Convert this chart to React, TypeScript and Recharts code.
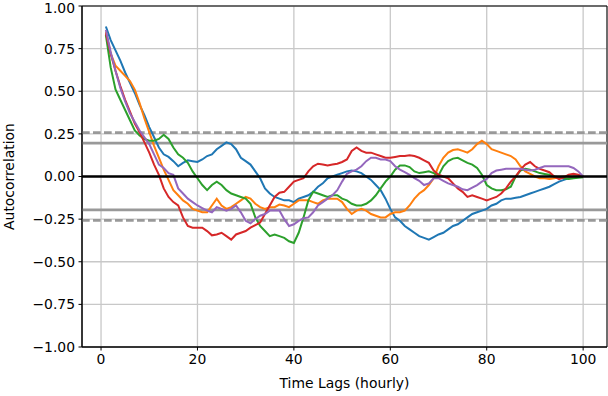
import { LineChart, Line, XAxis, YAxis, CartesianGrid, ReferenceLine, ReferenceArea, Label } from 'recharts';

// autocorrelation by lag (1..100), one array per series
const series0 = [
  0.88, 0.80, 0.74, 0.68, 0.61, 0.55, 0.49, 0.42, 0.36, 0.29,
  0.23, 0.17, 0.13, 0.115, 0.09, 0.06, 0.08, 0.095, 0.09, 0.085,
  0.10, 0.12, 0.13, 0.16, 0.18, 0.20, 0.19, 0.16, 0.11, 0.09,
  0.07, 0.03, -0.01, -0.07, -0.10, -0.12, -0.13, -0.14, -0.14, -0.15,
  -0.13, -0.12, -0.11, -0.09, -0.06, -0.04, -0.01, 0.0, 0.01, 0.02,
  0.03, 0.035, 0.03, 0.02, 0.0, -0.02, -0.05, -0.08, -0.13, -0.19,
  -0.24, -0.26, -0.29, -0.31, -0.33, -0.35, -0.36, -0.37, -0.355, -0.34,
  -0.33, -0.31, -0.29, -0.28, -0.26, -0.24, -0.22, -0.21, -0.20, -0.19,
  -0.17, -0.16, -0.14, -0.13, -0.13, -0.125, -0.12, -0.11, -0.10, -0.09,
  -0.08, -0.07, -0.06, -0.045, -0.03, -0.02, -0.01, 0.0, 0.0, 0.0,
];

const series1 = [
  0.85, 0.72, 0.65, 0.62, 0.59, 0.56, 0.51, 0.43, 0.34, 0.26,
  0.18, 0.11, 0.04, -0.02, -0.08, -0.11, -0.14, -0.16, -0.19, -0.20,
  -0.21, -0.21, -0.17, -0.13, -0.17, -0.19, -0.18, -0.16, -0.14, -0.12,
  -0.13, -0.16, -0.18, -0.19, -0.18, -0.18, -0.165, -0.17, -0.18, -0.16,
  -0.14, -0.14, -0.14, -0.15, -0.16, -0.14, -0.13, -0.13, -0.13, -0.15,
  -0.19, -0.22, -0.20, -0.19, -0.20, -0.22, -0.23, -0.24, -0.24, -0.22,
  -0.21, -0.21, -0.20, -0.17, -0.13, -0.10, -0.08, -0.05, -0.01, 0.06,
  0.11, 0.14, 0.155, 0.16, 0.15, 0.14, 0.16, 0.19, 0.21, 0.19,
  0.16, 0.15, 0.14, 0.13, 0.12, 0.10, 0.06, 0.03, 0.015, 0.0,
  -0.01, -0.01, -0.015, -0.01, -0.005, 0.0, 0.0, 0.0, 0.0, 0.0,
];

const series2 = [
  0.83, 0.64, 0.51, 0.45, 0.39, 0.33, 0.27, 0.24, 0.22, 0.21,
  0.21, 0.22, 0.245, 0.22, 0.17, 0.13, 0.11, 0.08, 0.03, -0.01,
  -0.05, -0.08, -0.05, -0.03, -0.05, -0.08, -0.10, -0.11, -0.12, -0.13,
  -0.16, -0.24, -0.29, -0.32, -0.35, -0.34, -0.35, -0.36, -0.38, -0.39,
  -0.33, -0.24, -0.14, -0.09, -0.10, -0.11, -0.12, -0.11, -0.11, -0.13,
  -0.14, -0.16, -0.17, -0.17, -0.16, -0.14, -0.11, -0.07, -0.03, 0.0,
  0.04, 0.065, 0.065, 0.055, 0.03, 0.02, 0.025, 0.03, 0.02, 0.006,
  0.06, 0.09, 0.105, 0.11, 0.095, 0.08, 0.07, 0.05, 0.01, -0.05,
  -0.07, -0.08, -0.08, -0.075, -0.06, 0.0, 0.035, 0.045, 0.04, 0.03,
  0.02, 0.015, 0.01, 0.0, -0.005, -0.01, -0.015, -0.01, -0.008, -0.005,
];

const series3 = [
  0.84, 0.72, 0.62, 0.53, 0.45, 0.38, 0.31, 0.26, 0.20, 0.14,
  0.07, 0.01, -0.07, -0.12, -0.15, -0.17, -0.24, -0.29, -0.30, -0.30,
  -0.30, -0.32, -0.345, -0.34, -0.33, -0.35, -0.37, -0.34, -0.33, -0.32,
  -0.30, -0.285, -0.27, -0.22, -0.17, -0.12, -0.095, -0.09, -0.06, -0.03,
  -0.02, -0.01, 0.03, 0.06, 0.075, 0.07, 0.065, 0.07, 0.075, 0.085,
  0.10, 0.15, 0.17, 0.15, 0.14, 0.14, 0.13, 0.12, 0.11, 0.11,
  0.115, 0.12, 0.12, 0.125, 0.12, 0.11, 0.095, 0.08, 0.035, 0.01,
  0.0, -0.01, -0.04, -0.07, -0.09, -0.12, -0.11, -0.12, -0.13, -0.14,
  -0.13, -0.12, -0.10, -0.07, -0.03, 0.0, 0.04, 0.07, 0.085, 0.06,
  0.045, 0.035, 0.025, 0.0, -0.015, -0.005, 0.01, 0.016, 0.01, 0.0,
];

const series4 = [
  0.86, 0.73, 0.62, 0.52, 0.44, 0.37, 0.32, 0.27, 0.23, 0.19,
  0.13, 0.07, 0.05, 0.02, 0.01, -0.07, -0.10, -0.13, -0.15, -0.17,
  -0.185, -0.20, -0.21, -0.18, -0.19, -0.20, -0.19, -0.17, -0.21, -0.26,
  -0.275, -0.25, -0.23, -0.22, -0.20, -0.20, -0.20, -0.25, -0.29, -0.28,
  -0.26, -0.245, -0.24, -0.21, -0.17, -0.15, -0.13, -0.11, -0.08, -0.03,
  0.016, 0.03, 0.04, 0.06, 0.09, 0.11, 0.11, 0.10, 0.10, 0.09,
  0.06, 0.04, 0.025, 0.01, -0.01, -0.025, -0.05, -0.04, -0.01, -0.01,
  -0.025, -0.04, -0.05, -0.06, -0.075, -0.08, -0.065, -0.05, -0.03, -0.014,
  0.02, 0.035, 0.04, 0.045, 0.045, 0.045, 0.045, 0.04, 0.035, 0.04,
  0.05, 0.06, 0.06, 0.06, 0.06, 0.06, 0.06, 0.05, 0.03, 0.0,
];

const seriesList = [series0, series1, series2, series3, series4];
const COLORS = ['#1f77b4', '#ff7f0e', '#2ca02c', '#d62728', '#9467bd'];

const xTicks = [0, 20, 40, 60, 80, 100];
const yTicks = [-1, -0.75, -0.5, -0.25, 0, 0.25, 0.5, 0.75, 1];

// confidence bands for n = 100
const z95 = 1.959963984540054 / 10;
const z99 = 2.5758293035489004 / 10;

const data = series0.map((_, i) => {
  const row: Record<string, number> = { lag: i + 1 };
  seriesList.forEach((s, k) => { row[`s${k}`] = s[i]; });
  return row;
});

const FONT = 'DejaVu Sans, sans-serif';
const tickStyle = { fill: '#000', fontSize: 13.9, fontFamily: FONT };
const fmt = (v: number) => (v < 0 ? '\u2212' : '') + Math.abs(v).toFixed(2);

export default function App() {
  return (
    <div style={{ position: 'absolute', left: 0, top: 0, width: 608, height: 396, background: '#fff' }}>
      <LineChart width={608} height={396} data={data} margin={{ top: 6, right: 1, bottom: 0, left: 0 }}>
        <CartesianGrid stroke="#c8c8c8" strokeWidth={1.3} />
        <XAxis
          dataKey="lag"
          type="number"
          domain={[-3.95, 104.95]}
          ticks={xTicks}
          allowDataOverflow
          height={49}
          tick={tickStyle}
          tickSize={3.5}
          tickMargin={3.5}
          tickLine={{ stroke: '#000' }}
          axisLine={{ stroke: '#000' }}
        >
          <Label value="Time Lags (hourly)" position="insideBottom" offset={8} style={{ fill: '#000', fontSize: 13.9, fontFamily: FONT }} />
        </XAxis>
        <YAxis
          type="number"
          domain={[-1, 1]}
          ticks={yTicks}
          tickFormatter={fmt}
          width={82}
          tick={tickStyle}
          tickSize={3.5}
          tickMargin={3.5}
          tickLine={{ stroke: '#000' }}
          axisLine={{ stroke: '#000' }}
        >
          <Label value="Autocorrelation" angle={-90} position="center" dx={-32} style={{ fill: '#000', fontSize: 13.9, fontFamily: FONT, textAnchor: 'middle' }} />
        </YAxis>
        <ReferenceLine y={z99} stroke="#999" strokeWidth={2.6} strokeDasharray="7.7 3.3" />
        <ReferenceLine y={z95} stroke="#999" strokeWidth={2.6} />
        <ReferenceLine y={-z95} stroke="#999" strokeWidth={2.6} />
        <ReferenceLine y={-z99} stroke="#999" strokeWidth={2.6} strokeDasharray="7.7 3.3" />
        {seriesList.map((_, k) => (
          <Line
            key={k}
            type="linear"
            dataKey={`s${k}`}
            stroke={COLORS[k]}
            strokeWidth={2}
            dot={false}
            activeDot={false}
            isAnimationActive={false}
          />
        ))}
        <ReferenceLine y={0} stroke="#000" strokeWidth={2.7} />
        <ReferenceArea x1={-3.95} x2={104.95} y1={-1} y2={1} fill="none" stroke="#000" strokeWidth={1} />
      </LineChart>
    </div>
  );
}
